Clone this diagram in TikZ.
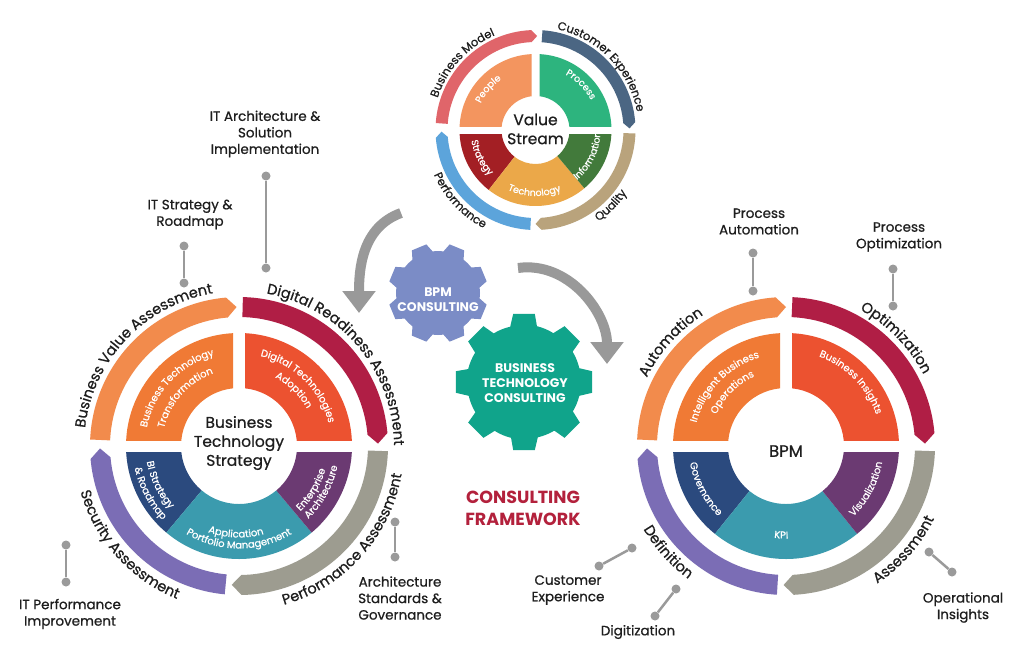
\documentclass[tikz,border=0pt]{standalone}
\usepackage{fontspec}
\setmainfont{Poppins}[UprightFeatures={FakeBold=0.7}]
\usetikzlibrary{arrows.meta,decorations.text}

\definecolor{ringOrange}{HTML}{F28B4C}
\definecolor{ringCrimson}{HTML}{B01E45}
\definecolor{ringGray}{HTML}{9D9C90}
\definecolor{ringPurple}{HTML}{7B6DB5}
\definecolor{segOrange}{HTML}{F07A35}
\definecolor{segRed}{HTML}{EC5230}
\definecolor{segNavy}{HTML}{2B4A7E}
\definecolor{segTeal}{HTML}{3B9BAE}
\definecolor{segPlum}{HTML}{6B3A72}
\definecolor{vsPeople}{HTML}{F3955F}
\definecolor{vsProcess}{HTML}{2DB47E}
\definecolor{vsStrategy}{HTML}{A31F24}
\definecolor{vsTech}{HTML}{EBA849}
\definecolor{vsInfo}{HTML}{427A3B}
\definecolor{vsModel}{HTML}{E0656A}
\definecolor{vsCustomer}{HTML}{4B6683}
\definecolor{vsQuality}{HTML}{B9A37C}
\definecolor{vsPerf}{HTML}{5CA4DB}
\definecolor{gearBlue}{HTML}{7B8CC6}
\definecolor{gearGreen}{HTML}{10A48B}
\definecolor{frameRed}{HTML}{B3213C}
\definecolor{callGray}{HTML}{9A9A9A}
\definecolor{arrowGray}{HTML}{999999}
\definecolor{inkDark}{HTML}{1E1E1E}

\begin{document}
\begin{tikzpicture}[x=1pt,y=1pt,
 lbl/.style={font=\fontsize{13.5}{16.5}\selectfont,align=center,text=inkDark,inner sep=0pt},
 dot/.style={circle,fill=callGray,inner sep=0pt,minimum size=9pt},
 link/.style={draw=callGray,line width=2.5pt},
 gtxt/.style={font=\fontsize{12.5}{15}\selectfont\bfseries,text=white,align=center,inner sep=0pt},
 hub/.style={font=\fontsize{15.5}{19}\selectfont,align=center,text=inkDark,inner sep=0pt},
 bendarrow/.style={draw=arrowGray,line width=10pt,-{Triangle[width=32pt,length=22pt]}}]
\newcommand{\RingArc}[3]{\fill[#1] (#2:\Rin) arc[start angle=#2,end angle=#3+\Tip,radius=\Rin] -- ({#3}:{(\Rin+\Rout)/2}) -- ({#3+\Tip}:\Rout) arc[start angle=#3+\Tip,end angle=#2,radius=\Rout] -- cycle;}
\newcommand{\Sector}[5]{\fill[#1] (#2:#4) arc[start angle=#2,end angle=#3,radius=#4] -- (#3:#5) arc[start angle=#3,end angle=#2,radius=#5] -- cycle;}
\newcommand{\TopText}[4]{\path[decorate,decoration={text along path,text align=center,text={|#3|#4}}] ({#2+85}:#1) arc[start angle=#2+85,end angle=#2-85,radius=#1];}
\newcommand{\LowText}[4]{\path[decorate,decoration={text along path,text align=center,text={|#3|#4}}] ({#2-85}:#1) arc[start angle=#2-85,end angle=#2+85,radius=#1];}
\newcommand{\RimF}{\fontsize{14.5}{16}\selectfont\color{inkDark}}
\newcommand{\SegF}{\fontsize{10}{12}\selectfont\color{white}}
\newcommand{\VsRimF}{\fontsize{11.5}{13}\selectfont\color{inkDark}}
\newcommand{\VsSegF}{\fontsize{9.5}{11}\selectfont\color{white}}
\fill[white] (0,0) rectangle (1024,-657);
\useasboundingbox (0,0) rectangle (1024,-657);

% value stream wheel
\begin{scope}[shift={(535.5,-130)}]
\def\Rin{88}\def\Rout{100}\def\Tip{3.5}
\RingArc{vsModel}{176}{89}
\RingArc{vsCustomer}{86}{1}
\RingArc{vsQuality}{-2}{-90}
\RingArc{vsPerf}{-93}{-179}
\begin{scope}\clip (-80,4) rectangle (-4,80); \Sector{vsPeople}{90}{180}{76}{34}\end{scope}
\begin{scope}\clip (4,4) rectangle (80,80); \Sector{vsProcess}{0}{90}{76}{34}\end{scope}
\begin{scope}\clip (-80,-4) rectangle (80,-80);
 \Sector{vsStrategy}{180}{232}{76}{34}
 \Sector{vsTech}{232}{310}{76}{34}
 \Sector{vsInfo}{310}{360}{76}{34}
\end{scope}
\node[hub] (vs) at (0,1) {Value\\Stream};
\TopText{103}{137.5}{\VsRimF}{Business Model}
\TopText{103}{44}{\VsRimF}{Customer Experience}
\LowText{111}{223}{\VsRimF}{Performance}
\LowText{111}{315}{\VsRimF}{Quality}
\TopText{61}{139}{\VsSegF}{People}
\TopText{63}{45}{\VsSegF}{Process}
\LowText{65}{207}{\VsSegF}{Strategy}
\LowText{66}{269}{\VsSegF}{Technology}
\LowText{65}{334}{\VsSegF}{Information}
\end{scope}

% business technology strategy wheel
\begin{scope}[shift={(239,-446)}]
\def\Rin{129}\def\Rout{149}\def\Tip{4}
\RingArc{ringOrange}{177.5}{91}
\RingArc{ringCrimson}{88.5}{1}
\RingArc{ringGray}{-2}{-93}
\RingArc{ringPurple}{-95.5}{-179}
\begin{scope}\clip (-120,6) rectangle (-6,120); \Sector{segOrange}{90}{180}{113}{58}\end{scope}
\begin{scope}\clip (6,6) rectangle (120,120); \Sector{segRed}{0}{90}{113}{58}\end{scope}
\begin{scope}\clip (-120,-6) rectangle (120,-120);
 \Sector{segNavy}{180}{230}{113}{58}
 \Sector{segTeal}{230}{310}{113}{58}
 \Sector{segPlum}{310}{360}{113}{58}
\end{scope}
\node[hub] (bts) at (0,3) {Business\\Technology\\Strategy};
\TopText{155}{136.5}{\RimF}{Business Value Assessment}
\TopText{155}{40}{\RimF}{Digital Readiness Assessment}
\LowText{165}{318}{\RimF}{Performance Assessment}
\LowText{165}{222}{\RimF}{Security Assessment}
\TopText{94}{137}{\SegF}{Business Technology}
\TopText{77}{138}{\SegF}{Transformation}
\TopText{92.5}{45.5}{\SegF}{Digital Technologies}
\TopText{77.5}{45.5}{\SegF}{Adoption}
\LowText{93.5}{206}{\SegF}{BI Strategy}
\LowText{106.5}{208}{\SegF}{{\&} Roadmap}
\LowText{91.5}{268}{\SegF}{Application}
\LowText{102.5}{270}{\SegF}{Portfolio Management}
\LowText{89.5}{329}{\SegF}{Enterprise}
\LowText{100.5}{331}{\SegF}{Architecture}
\end{scope}

% bpm wheel
\begin{scope}[shift={(786,-446)}]
\def\Rin{129}\def\Rout{149}\def\Tip{4}
\RingArc{ringOrange}{177.5}{90}
\RingArc{ringCrimson}{87.5}{1}
\RingArc{ringGray}{-2}{-91}
\RingArc{ringPurple}{-93.5}{-179}
\begin{scope}\clip (-120,6) rectangle (-6,120); \Sector{segOrange}{90}{180}{113}{58}\end{scope}
\begin{scope}\clip (6,6) rectangle (120,120); \Sector{segRed}{0}{90}{113}{58}\end{scope}
\begin{scope}\clip (-120,-6) rectangle (120,-120);
 \Sector{segNavy}{180}{231}{113}{58}
 \Sector{segTeal}{231}{309}{113}{58}
 \Sector{segPlum}{309}{360}{113}{58}
\end{scope}
\node[hub,font=\fontsize{16.5}{19}\selectfont] (bpm) at (0,-5) {BPM};
\TopText{155}{138}{\RimF}{Automation}
\TopText{155}{44.5}{\RimF}{Optimization}
\LowText{165}{222}{\RimF}{Definition}
\LowText{165}{318.7}{\RimF}{Assessment}
\TopText{92.5}{136}{\SegF}{Intelligent Business}
\TopText{76.5}{135}{\SegF}{Operations}
\TopText{95.5}{44.5}{\SegF}{Business Insights}
\LowText{97.5}{208}{\SegF}{Governance}
\LowText{92.5}{267}{\SegF}{KPI}
\LowText{97.5}{332}{\SegF}{Visualization}
\end{scope}

% gears
\begin{scope}[shift={(438,-293)}]
\fill[gearBlue] ({22.5-30}:42) \foreach \a in {22.5,67.5,...,337.5} {arc[start angle=\a-30,end angle=\a-15,radius=42] -- ({\a-9}:50) -- ({\a+9}:50) -- ({\a+15}:42)} -- cycle;
\node[gtxt] (bpmgear) at (0,-7) {BPM\\CONSULTING};
\end{scope}
\begin{scope}[shift={(524,-382)}]
\fill[gearGreen] (-32:57) \foreach \a in {0,45,...,315} {arc[start angle=\a-32,end angle=\a-14,radius=57] -- ({\a-9}:69) -- ({\a+9}:69) -- ({\a+14}:57)} -- cycle;
\node[gtxt] (btgear) at (1,-1) {BUSINESS\\TECHNOLOGY\\CONSULTING};
\end{scope}

% curved arrows
\coordinate (ar1s) at (401,-213);
\coordinate (ar1e) at (359,-313);
\coordinate (ar2s) at (518,-268);
\coordinate (ar2e) at (607,-364);
\draw[bendarrow] (ar1s) to[out=200,in=90] (ar1e);
\draw[bendarrow] (ar2s) to[out=8,in=90] (ar2e);

\node[font=\fontsize{17.5}{22}\selectfont\bfseries,text=frameRed,align=center,inner sep=0pt] (frame) at (523,-508) {CONSULTING\\FRAMEWORK};

% callouts
\node[lbl] (ita) at (265,-134) {IT Architecture \&\\Solution\\Implementation};
\node[dot] (ita-a) at (266,-176) {}; \node[dot] (ita-b) at (266,-268) {};
\draw[link] (ita-a) -- (ita-b);
\node[lbl] (its) at (190,-214.5) {IT Strategy \&\\Roadmap};
\node[dot] (its-a) at (184,-246) {}; \node[dot] (its-b) at (184,-283) {};
\draw[link] (its-a) -- (its-b);
\node[lbl] (itp) at (70,-614) {IT Performance\\Improvement};
\node[dot] (itp-a) at (66,-545) {}; \node[dot] (itp-b) at (66,-582) {};
\draw[link] (itp-a) -- (itp-b);
\node[lbl] (asg) at (400,-598) {Architecture\\Standards \&\\Governance};
\node[dot] (asg-a) at (395,-522) {}; \node[dot] (asg-b) at (395,-557) {};
\draw[link] (asg-a) -- (asg-b);
\node[lbl] (pa) at (759,-221.5) {Process\\Automation};
\node[dot] (pa-a) at (753,-253) {}; \node[dot] (pa-b) at (753,-291) {};
\draw[link] (pa-a) -- (pa-b);
\node[lbl] (po) at (899,-237) {Process\\Optimization};
\node[dot] (po-a) at (893,-269) {}; \node[dot] (po-b) at (893,-306) {};
\draw[link] (po-a) -- (po-b);
\node[lbl] (ce) at (568,-590) {Customer\\Experience};
\node[dot] (ce-a) at (632,-548) {}; \node[dot] (ce-b) at (599,-566) {};
\draw[link] (ce-a) -- (ce-b);
\node[lbl] (dg) at (638,-632) {Digitization};
\node[dot] (dg-a) at (676,-589) {}; \node[dot] (dg-b) at (655,-616) {};
\draw[link] (dg-a) -- (dg-b);
\node[lbl] (oi) at (963,-607.5) {Operational\\Insights};
\node[dot] (oi-a) at (929,-552) {}; \node[dot] (oi-b) at (952,-572) {};
\draw[link] (oi-a) -- (oi-b);
\end{tikzpicture}
\end{document}
